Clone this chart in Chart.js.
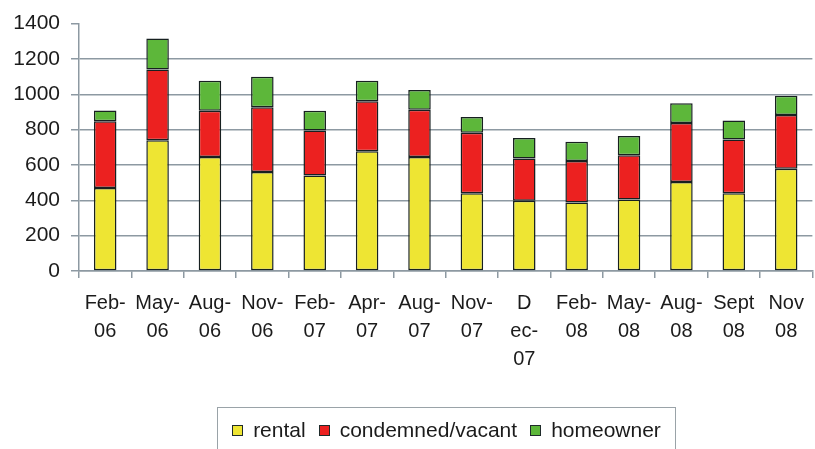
<!DOCTYPE html>
<html>
<head>
<meta charset="utf-8">
<script src="https://cdn.jsdelivr.net/npm/chart.js@4"></script>
<style>
  html,body{margin:0;padding:0;background:#fff;overflow:hidden;}
  #wrap{position:relative;width:815px;height:449px;}
  #legend{position:absolute;left:217px;top:407px;width:459px;height:46px;box-sizing:border-box;
    border:1.5px solid #9aa3a8;display:flex;align-items:center;justify-content:center;
    font:21px 'Liberation Sans',Arial,sans-serif;color:#1b1b1b;gap:13px;}
  #legend .item{display:flex;align-items:center;gap:10px;}
  #legend .sw{width:9px;height:9px;border:1.5px solid #1f2b2b;}
</style>
</head>
<body>
<div id="wrap">
  <canvas id="chart" width="815" height="449"></canvas>
  <div id="legend"></div>
</div>
<script>
const labels = [
  ['Feb-','06'],['May-','06'],['Aug-','06'],['Nov-','06'],['Feb-','07'],['Apr-','07'],['Aug-','07'],
  ['Nov-','07'],['D','ec-','07'],['Feb-','08'],['May-','08'],['Aug-','08'],['Sept','08'],['Nov','08']
];
const rental     = [470, 740, 645, 560, 540, 677, 645, 440, 397, 388, 405, 504, 440, 578];
const condemned  = [378, 400, 262, 366, 255, 283, 268, 343, 239, 235, 250, 333, 304, 305];
const homeowner  = [ 60, 175, 170, 173, 112, 116, 111,  88, 117, 109, 109, 112, 107, 109];
const seriesNames = ['rental', 'condemned/vacant', 'homeowner'];
const yTicks = [0, 200, 400, 600, 800, 1000, 1200, 1400];

const colors = ['#eee533', '#ec2120', '#5db73a'];
const edge = '#172020';
const gridCol = '#8d99a2';

function mk(i, data){
  return {label: seriesNames[i], data: data, backgroundColor: colors[i], borderColor: edge,
    borderWidth: 1.5, borderSkipped: false, inflateAmount: 0, barPercentage: 0.43, categoryPercentage: 1};
}

const chart = new Chart(document.getElementById('chart'), {
  type: 'bar',
  data: { labels: labels, datasets: [mk(0, rental), mk(1, condemned), mk(2, homeowner)] },
  options: {
    responsive: false,
    animation: false,
    layout: { padding: { top: 12, right: 1, bottom: 65, left: 0 } },
    plugins: { legend: { display: false }, tooltip: { enabled: false } },
    scales: {
      x: {
        stacked: true,
        grid: { offset: true, drawOnChartArea: false, tickLength: 7, color: gridCol, lineWidth: 1.5 },
        border: { color: gridCol, width: 1.5 },
        ticks: { maxRotation: 0, minRotation: 0, autoSkip: false, padding: 11, color: '#1b1b1b',
          font: { family: "'Liberation Sans Narrow','Liberation Sans',Arial,sans-serif", size: 20, lineHeight: 1.4 } }
      },
      y: {
        stacked: true,
        min: 0, max: 1400,
        afterBuildTicks: s => { s.ticks = yTicks.map(v => ({value: v})); },
        afterFit: s => { s.width = 79; },
        grid: { color: c => c.tick && c.tick.value === 1400 ? 'rgba(0,0,0,0)' : gridCol,
          tickColor: gridCol, lineWidth: 1.5, tickLength: 8 },
        border: { color: gridCol, width: 1.5 },
        ticks: { padding: 11, color: '#1b1b1b', callback: v => String(v),
          font: { family: "'Liberation Sans',Arial,sans-serif", size: 21 } }
      }
    }
  }
});

const lg = document.getElementById('legend');
chart.data.datasets.forEach(ds => {
  const it = document.createElement('span');
  it.className = 'item';
  const sw = document.createElement('span');
  sw.className = 'sw';
  sw.style.background = ds.backgroundColor;
  it.appendChild(sw);
  it.appendChild(document.createTextNode(ds.label));
  lg.appendChild(it);
});
</script>
</body>
</html>
